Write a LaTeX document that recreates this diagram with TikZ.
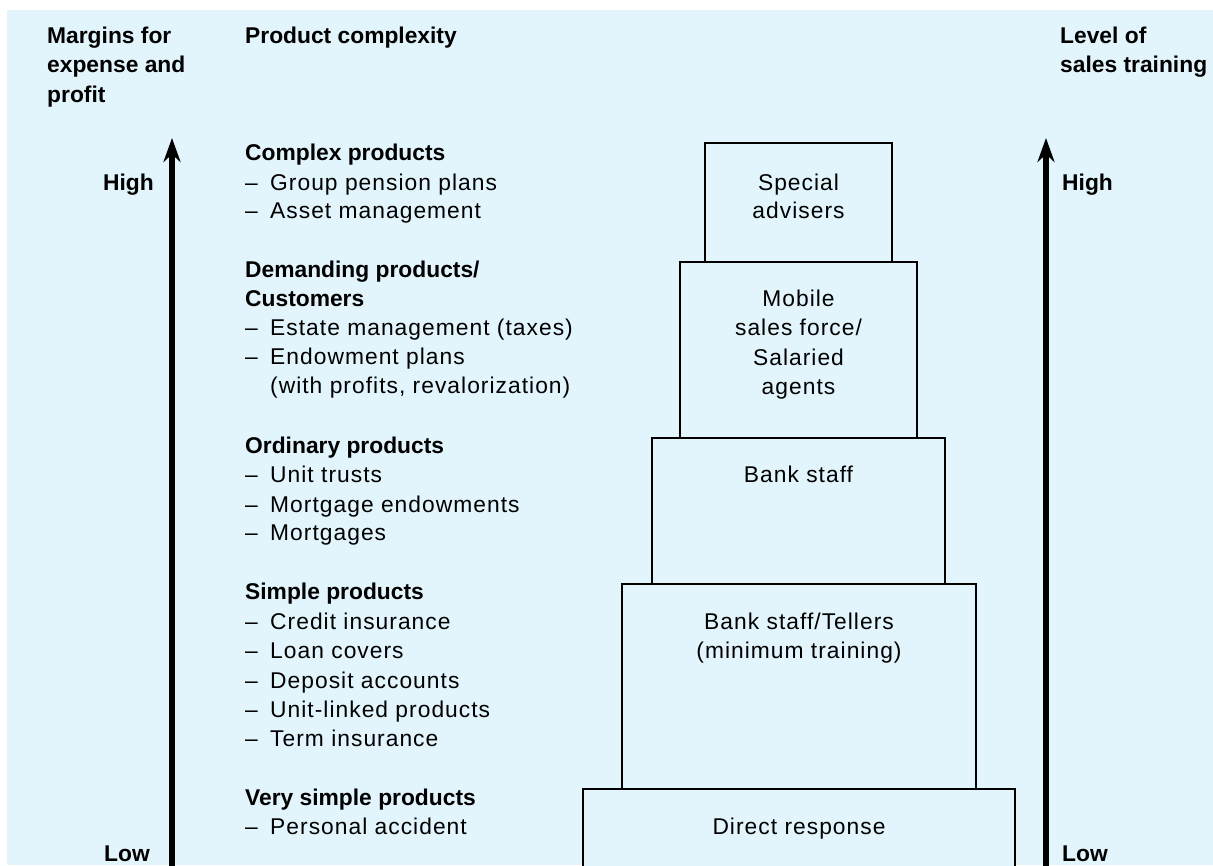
\documentclass[tikz,border=0pt]{standalone}
\usepackage{fontspec}
\setmainfont{Liberation Sans}
\newfontfamily\spaced{Liberation Sans}[LetterSpace=4.5]
\usetikzlibrary{arrows.meta}
\definecolor{bgblue}{RGB}{227,245,252}
\begin{document}
\begin{tikzpicture}[x=1pt,y=-1pt,
  hd/.style={anchor=base west, inner sep=0pt, font=\fontsize{22.8}{27}\selectfont\bfseries},
  hdr/.style={anchor=base east, inner sep=0pt, font=\fontsize{22.8}{27}\selectfont\bfseries},
  it/.style={anchor=base west, inner sep=0pt, font=\fontsize{22.8}{27}\selectfont\spaced},
  bt/.style={anchor=base, inner sep=0pt, font=\fontsize{22.8}{27}\selectfont\spaced},
  stepbox/.style={draw=black, line width=2pt, fill=bgblue, inner sep=0pt},
  axis/.style={line width=6.5pt, -{Stealth[length=24pt,width=17pt]}}
]
\useasboundingbox (0,0) rectangle (1213,865);
\fill[white] (0,0) rectangle (1213,865);
\fill[bgblue] (7,10) rectangle (1213,865);

% headings
\node[hd] (m1) at (47,43) {Margins for};
\node[hd] (m2) at (47,72) {expense and};
\node[hd] (m3) at (47,102) {profit};
\node[hd] (pc) at (245,43) {Product complexity};
\node[hd] (l1) at (1060,43) {Level of};
\node[hd] (l2) at (1060,72) {sales training};

% axes
\coordinate (lb) at (172,866);
\coordinate (lt) at (172,138);
\coordinate (rb) at (1046,866);
\coordinate (rt) at (1046,138);
\draw[axis] (lb) -- (lt);
\draw[axis] (rb) -- (rt);
\node[hdr] (hl) at (154,190) {High};
\node[hdr] (ll) at (150,861) {Low};
\node[hd] (hr) at (1062,190) {High};
\node[hd] (lr) at (1062,861) {Low};

% boxes
\node[stepbox, minimum width=432pt, minimum height=84pt] (dr) at (799,831) {};
\node[stepbox, minimum width=354pt, minimum height=205pt] (bt) at (799,686.5) {};
\node[stepbox, minimum width=293pt, minimum height=146pt] (bs) at (798.5,511) {};
\node[stepbox, minimum width=237pt, minimum height=176pt] (mo) at (798.5,350) {};
\node[stepbox, minimum width=187pt, minimum height=119pt] (sa) at (798.5,202.5) {};

\node[bt] (sa1) at (798.5,190) {Special};
\node[bt] (sa2) at (798.5,218) {advisers};
\node[bt] (mo1) at (798.5,306) {Mobile};
\node[bt] (mo2) at (798.5,335) {sales force/};
\node[bt] (mo3) at (798.5,365) {Salaried};
\node[bt] (mo4) at (798.5,394) {agents};
\node[bt] (bs1) at (798.5,482) {Bank staff};
\node[bt] (bt1) at (799,629) {Bank staff/Tellers};
\node[bt] (bt2) at (799,658) {(minimum training)};
\node[bt] (dr1) at (799,834) {Direct response};

% left column
\node[hd] (c0) at (245,160) {Complex products};
\node[it] (c1d) at (245,190) {–}; \node[it] (c1) at (270,190) {Group pension plans};
\node[it] (c2d) at (245,218) {–}; \node[it] (c2) at (270,218) {Asset management};

\node[hd] (d0) at (245,277) {Demanding products/};
\node[hd] (d0b) at (245,306) {Customers};
\node[it] (d1d) at (245,335) {–}; \node[it] (d1) at (270,335) {Estate management (taxes)};
\node[it] (d2d) at (245,364) {–}; \node[it] (d2) at (270,364) {Endowment plans};
\node[it] (d3) at (270,393) {(with profits, revalorization)};

\node[hd] (o0) at (245,453) {Ordinary products};
\node[it] (o1d) at (245,482) {–}; \node[it] (o1) at (270,482) {Unit trusts};
\node[it] (o2d) at (245,512) {–}; \node[it] (o2) at (270,512) {Mortgage endowments};
\node[it] (o3d) at (245,540) {–}; \node[it] (o3) at (270,540) {Mortgages};

\node[hd] (s0) at (245,599) {Simple products};
\node[it] (s1d) at (245,629) {–}; \node[it] (s1) at (270,629) {Credit insurance};
\node[it] (s2d) at (245,658) {–}; \node[it] (s2) at (270,658) {Loan covers};
\node[it] (s3d) at (245,688) {–}; \node[it] (s3) at (270,688) {Deposit accounts};
\node[it] (s4d) at (245,717) {–}; \node[it] (s4) at (270,717) {Unit-linked products};
\node[it] (s5d) at (245,746) {–}; \node[it] (s5) at (270,746) {Term insurance};

\node[hd] (v0) at (245,805) {Very simple products};
\node[it] (v1d) at (245,834) {–}; \node[it] (v1) at (270,834) {Personal accident};
\end{tikzpicture}
\end{document}
